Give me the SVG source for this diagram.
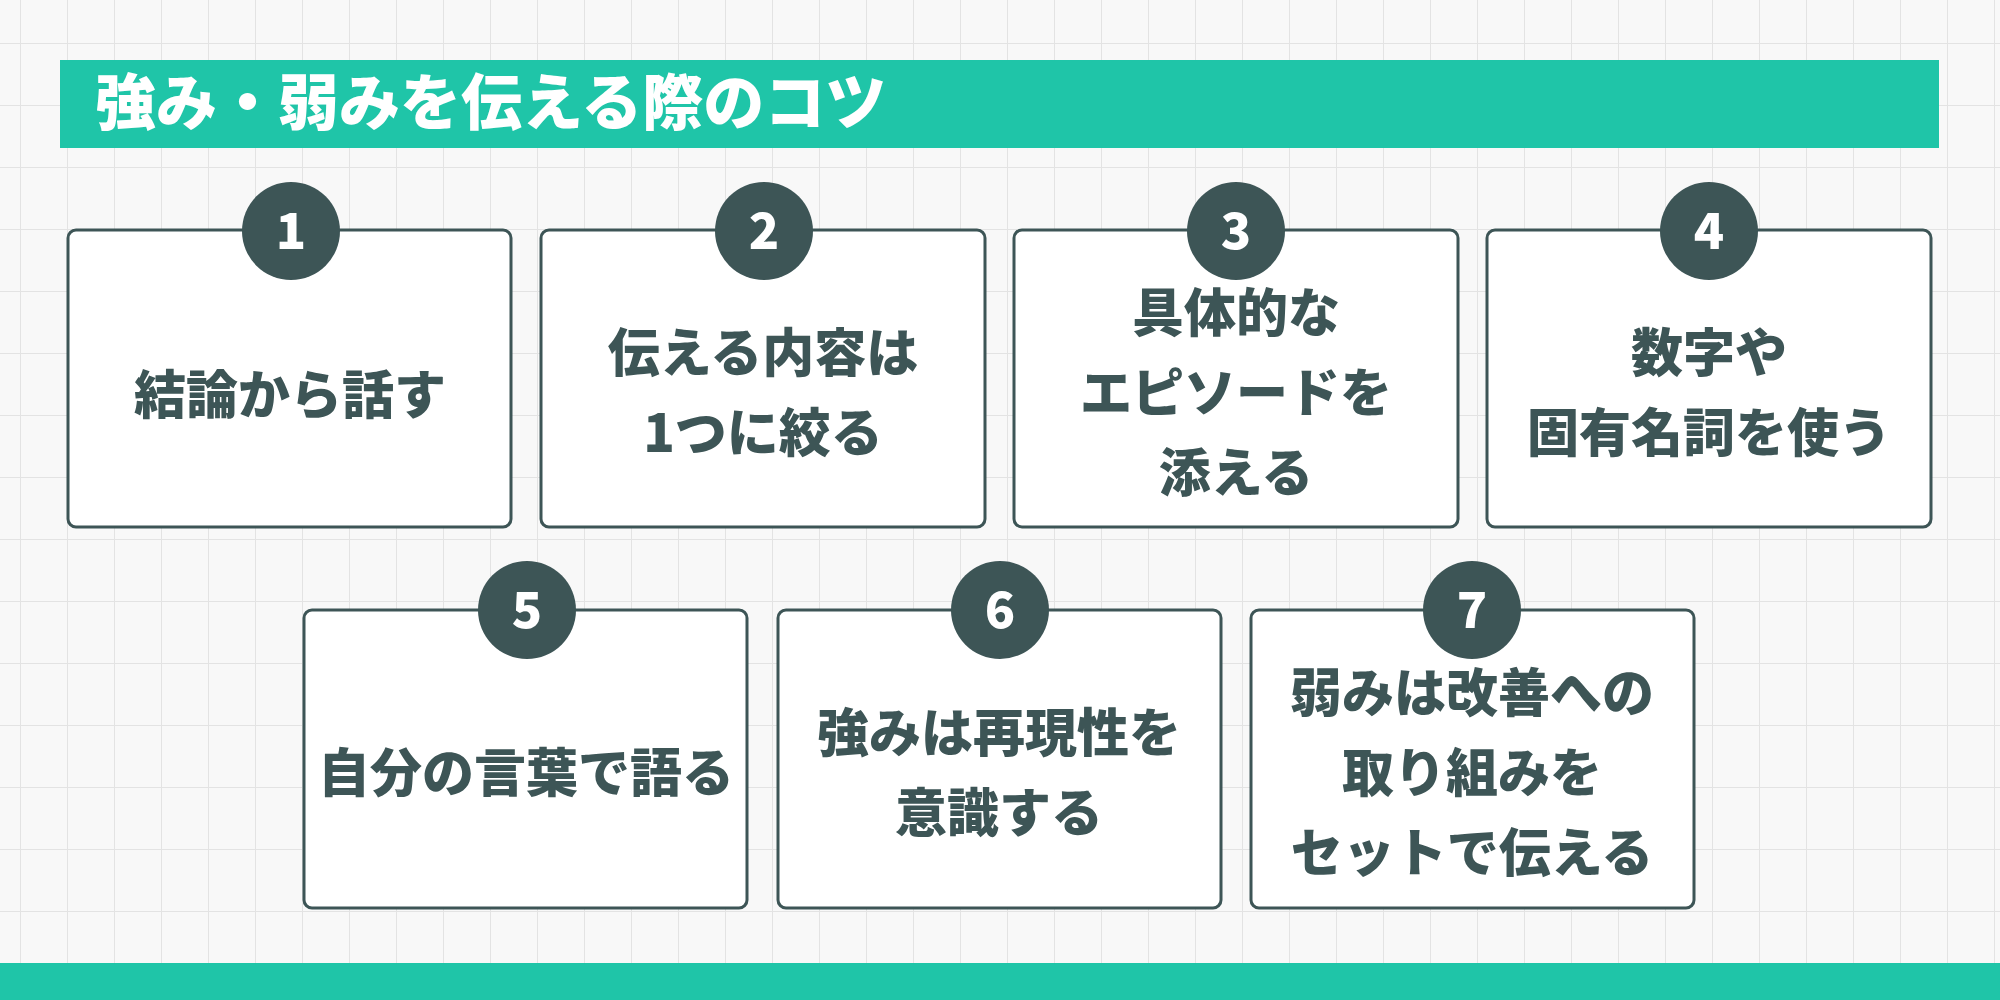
<svg xmlns="http://www.w3.org/2000/svg" width="2000" height="1000" viewBox="0 0 2000 1000">
<defs>
<pattern id="grid" width="47" height="62" patternUnits="userSpaceOnUse" x="20" y="43">
<path d="M0 0H47M0 0V62" fill="none" stroke="#e3e3e3" stroke-width="2"/>
</pattern>
<style>
.box{fill:#fff;stroke:#3d5556;stroke-width:3}
.num{fill:#3d5556}
.nt{font-family:"Noto Sans CJK JP","Noto Sans",sans-serif;font-weight:900;font-size:50px;fill:#fff;text-anchor:middle}
.t{font-family:"Noto Sans CJK JP",sans-serif;font-weight:900;font-size:52px;fill:#3d5556;text-anchor:middle}
</style>
</defs>
<rect width="2000" height="1000" fill="#f8f8f8"/>
<rect width="2000" height="1000" fill="url(#grid)"/>
<g id="title"><rect x="60" y="60" width="1879" height="88" fill="#1fc5a8"/>
<text x="95" y="125" font-family="Noto Sans CJK JP,sans-serif" font-weight="900" font-size="61" fill="#fff">強み・弱みを伝える際のコツ</text></g>
<rect x="0" y="963" width="2000" height="37" fill="#1fc5a8"/>
<g id="n1"><rect class="box" x="68" y="230" width="443" height="297" rx="8"/><circle class="num" cx="291" cy="231" r="49"/><text class="nt" x="291" y="249">1</text><text class="t" x="290" y="414">結論から話す</text></g>
<g id="n2"><rect class="box" x="541" y="230" width="444" height="297" rx="8"/><circle class="num" cx="764" cy="231" r="49"/><text class="nt" x="764" y="249">2</text><text class="t" x="763" y="372">伝える内容は</text><text class="t" x="763" y="452">1つに絞る</text></g>
<g id="n3"><rect class="box" x="1014" y="230" width="444" height="297" rx="8"/><circle class="num" cx="1236" cy="231" r="49"/><text class="nt" x="1236" y="249">3</text><text class="t" x="1236" y="332">具体的な</text><text class="t" x="1236" y="412">エピソードを</text><text class="t" x="1236" y="492">添える</text></g>
<g id="n4"><rect class="box" x="1487" y="230" width="444" height="297" rx="8"/><circle class="num" cx="1709" cy="231" r="49"/><text class="nt" x="1709" y="249">4</text><text class="t" x="1709" y="372">数字や</text><text class="t" x="1709" y="452">固有名詞を使う</text></g>
<g id="n5"><rect class="box" x="304" y="610" width="443" height="298" rx="8"/><circle class="num" cx="527" cy="610" r="49"/><text class="nt" x="527" y="628">5</text><text class="t" x="526" y="792">自分の言葉で語る</text></g>
<g id="n6"><rect class="box" x="778" y="610" width="443" height="298" rx="8"/><circle class="num" cx="1000" cy="610" r="49"/><text class="nt" x="1000" y="628">6</text><text class="t" x="999" y="752">強みは再現性を</text><text class="t" x="999" y="832">意識する</text></g>
<g id="n7"><rect class="box" x="1251" y="610" width="443" height="298" rx="8"/><circle class="num" cx="1472" cy="610" r="49"/><text class="nt" x="1472" y="628">7</text><text class="t" x="1472" y="712">弱みは改善への</text><text class="t" x="1472" y="792">取り組みを</text><text class="t" x="1472" y="872">セットで伝える</text></g>
<g id="connectors"/>
</svg>
